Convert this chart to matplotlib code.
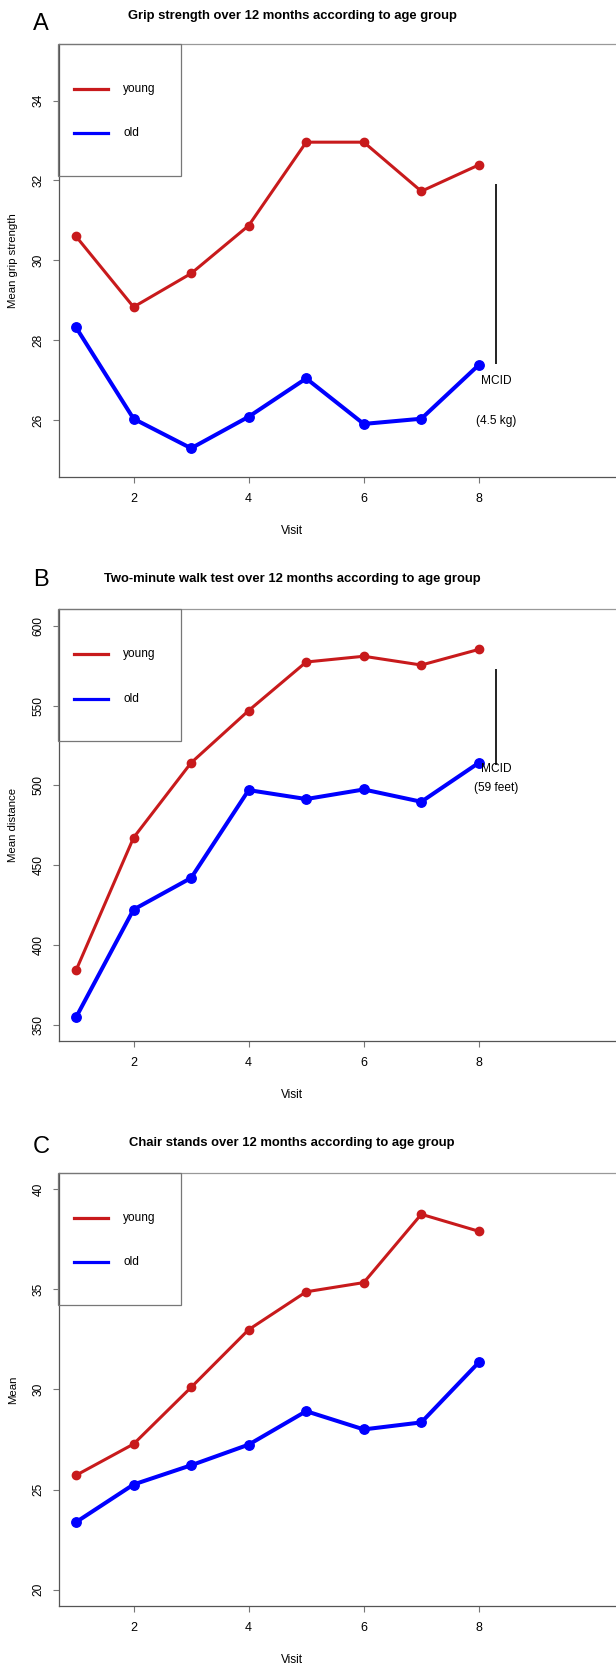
import matplotlib
matplotlib.use('Agg')
import matplotlib.pyplot as plt
from matplotlib.lines import Line2D
from matplotlib.patches import Rectangle

# data
visits = [1, 2, 3, 4, 5, 6, 7, 8]
x_ticks = [2, 4, 6, 8]

grip_young = [30.60, 28.83, 29.67, 30.87, 32.96, 32.96, 31.73, 32.39]
grip_old = [28.32, 26.03, 25.29, 26.08, 27.04, 25.90, 26.03, 27.38]
walk_young = [384.2, 467.3, 514.2, 546.9, 577.3, 580.9, 575.4, 585.2]
walk_old = [354.8, 422.3, 442.1, 497.1, 491.5, 497.5, 489.8, 514.2]
chair_young = [25.71, 27.27, 30.10, 32.98, 34.87, 35.33, 38.74, 37.89]
chair_old = [23.37, 25.25, 26.21, 27.24, 28.91, 28.00, 28.35, 31.35]

grip_ticks = [26, 28, 30, 32, 34]
walk_ticks = [350, 400, 450, 500, 550, 600]
chair_ticks = [20, 25, 30, 35, 40]

titles = ['Grip strength over 12 months according to age group',
          'Two-minute walk test over 12 months according to age group',
          'Chair stands over 12 months according to age group']
letters = ['A', 'B', 'C']
ylabels = ['Mean grip strength', 'Mean distance', 'Mean']
group_names = ['young', 'old']

# MCID bars: y from, y to, label y's, labels
mcid_x = 8.3
grip_mcid = (27.4, 31.9, 26.98, 25.98, 'MCID', '(4.5 kg)')
walk_mcid = (513.0, 573.2, 510.3, 498.4, 'MCID', '(59 feet)')

W, H = 616, 1666
fig = plt.figure(figsize=(W / 100, H / 100), dpi=100)
plt.rcParams['font.family'] = ['Liberation Sans', 'DejaVu Sans']

red = '#c81a1c'
blue = '#0000ff'
fs = 8.6  # horizontal text size


def fx(px):
    return px / W


def fy(py):
    return 1 - py / H


# pixel layout of each panel: axes top, axes bottom, title y, letter y, visit y
layout = [(44, 477, 15.7, 24, 531),
          (609.3, 1040.7, 579.3, 580, 1095),
          (1173, 1606.3, 1142.7, 1147, 1660)]
ylims = [(24.57, 35.42), (340.2, 610.3), (19.17, 40.8)]
yticks = [grip_ticks, walk_ticks, chair_ticks]
series = [(grip_young, grip_old), (walk_young, walk_old), (chair_young, chair_old)]
mcids = [grip_mcid, walk_mcid, None]

ax_left, ax_right = 59, 640
x_lo, x_hi = 0.7045, 10.80

for i in range(3):
    top, bot, ty, ly, vy = layout[i]
    ax = fig.add_axes([fx(ax_left), fy(bot), fx(ax_right - ax_left), (bot - top) / H])
    young, old = series[i]
    ax.plot(visits, young, color=red, lw=2.2, marker='o', ms=6, zorder=3)
    ax.plot(visits, old, color=blue, lw=2.9, marker='o', ms=6.8, zorder=3)
    ax.set_xlim(x_lo, x_hi)
    ax.set_ylim(*ylims[i])
    ax.set_xticks(x_ticks)
    ax.set_yticks(yticks[i])
    ax.set_xticklabels([str(t) for t in x_ticks], fontsize=fs + 0.4)
    ax.set_yticklabels([str(t) for t in yticks[i]], fontsize=8.6, rotation=90, va='center')
    ax.tick_params(axis='x', length=4.5, width=0.8, color='#777777', pad=7)
    ax.tick_params(axis='y', length=4.2, width=0.8, color='#777777', pad=6)
    ax.spines['top'].set_color('#999999')
    ax.spines['left'].set_color('#555555')
    ax.spines['bottom'].set_color('#555555')
    ax.spines['right'].set_visible(False)
    for s in ax.spines.values():
        s.set_linewidth(0.9)

    m = mcids[i]
    if m is not None:
        ax.vlines(mcid_x, m[0], m[1], color='#222222', lw=1.4)
        ax.text(mcid_x, m[2], m[4], ha='center', va='center', fontsize=fs)
        ax.text(mcid_x, m[3], m[5], ha='center', va='center', fontsize=fs)

    # legend box in the top-left corner
    fig.add_artist(Rectangle((fx(58), fy(top + 132)), fx(181 - 58), 132 / H,
                             fill=False, edgecolor='#777777', lw=0.9, transform=fig.transFigure))
    for row, (name, col) in enumerate(zip(group_names, [red, blue])):
        yy = fy(top + 45 + 44.3 * row)
        fig.add_artist(Line2D([fx(74), fx(108.3)], [yy, yy], color=col, lw=2.3,
                              transform=fig.transFigure))
        fig.text(fx(123), yy, name, ha='left', va='center', fontsize=fs)

    fig.text(fx(292), fy(ty), titles[i], ha='center', va='center',
             fontweight='bold', fontsize=9.4)
    fig.text(fx(33), fy(ly), letters[i], ha='left', va='center', fontsize=17)
    fig.text(fx(292), fy(vy), 'Visit', ha='center', va='center', fontsize=fs)
    fig.text(fx(13.3), fy((top + bot) / 2), ylabels[i], ha='center', va='center',
             rotation=90, fontsize=8.2)

fig.savefig('out.png', dpi=100)
